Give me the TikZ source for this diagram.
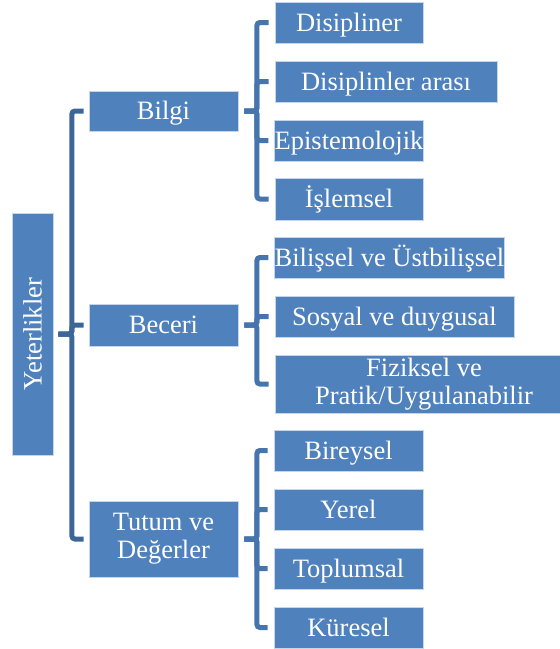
\documentclass[tikz,border=0pt]{standalone}
\usepackage{fontspec}
\setmainfont{Liberation Serif}
\usetikzlibrary{calc}
\definecolor{boxfill}{HTML}{4F81BD}
\definecolor{boxline}{HTML}{C5D6EC}
\definecolor{mainconn}{HTML}{3D6698}
\definecolor{subconn}{HTML}{4675AE}
\tikzset{
  bx/.style={rectangle, fill=boxfill, draw=boxline, line width=0.8pt, inner sep=0pt,
    text=white, font=\fontsize{26.5}{28}\selectfont, align=center},
  bxone/.style={bx, text height=17.5pt, text depth=0pt},
  mconn/.style={draw=mainconn, line width=5pt, rounded corners=3pt},
  sconn/.style={draw=subconn, line width=5pt, rounded corners=3pt}
}
\begin{document}
\begin{tikzpicture}[x=1pt,y=-1pt]
\useasboundingbox (0,0) rectangle (560,649);
\clip (0,0) rectangle (560,649);
% root
\node[bx, minimum width=41pt, minimum height=242pt] (yet) at (32.5,334) {};
\node[text=white, font=\fontsize{26.5}{28}\selectfont, rotate=90, inner sep=0pt] (yett) at (yet.center) {Yeterlikler};
% level 1
\node[bxone, minimum width=149pt, minimum height=40pt] (bilgi) at (163.5,111) {Bilgi};
\node[bxone, minimum width=149pt, minimum height=42pt] (beceri) at (163.5,325) {Beceri};
\node[bx, minimum width=149pt, minimum height=76pt] (tutum) at (163.5,539) {Tutum ve\\Değerler};
% Bilgi children
\node[bxone, minimum width=148pt, minimum height=41pt] (dis) at (349,22.5) {Disipliner};
\node[bxone, minimum width=222pt, minimum height=41pt] (disa) at (386,81.5) {Disiplinler arası};
\node[bxone, minimum width=148pt, minimum height=41pt] (epi) at (349,140.5) {Epistemolojik};
\node[bxone, minimum width=148pt, minimum height=42pt] (isl) at (349,199) {İşlemsel};
% Beceri children
\node[bxone, minimum width=229pt, minimum height=41pt] (bil) at (389.5,257.5) {Bilişsel ve Üstbilişsel};
\node[bxone, minimum width=239pt, minimum height=41pt] (sos) at (394.5,316.5) {Sosyal ve duygusal};
\node[bx, minimum width=298pt, minimum height=58pt] (fiz) at (424,384) {Fiziksel ve\\Pratik/Uygulanabilir};
% Tutum children
\node[bxone, minimum width=149pt, minimum height=41pt] (bir) at (348.5,450.5) {Bireysel};
\node[bxone, minimum width=149pt, minimum height=41pt] (yer) at (348.5,509.5) {Yerel};
\node[bxone, minimum width=149pt, minimum height=41pt] (top) at (348.5,568.5) {Toplumsal};
\node[bxone, minimum width=149pt, minimum height=41pt] (kur) at (348.5,627.5) {Küresel};
% main connectors
\foreach \c in {bilgi,beceri,tutum}
  \draw[mconn] ($(yet.east)+(5,0)$) -- ++(13.5,0) |- ($(\c.west)+(-5,0)$);
% level-2 connectors
\foreach \c in {dis,disa,epi,isl}
  \draw[sconn] ($(bilgi.east)+(6,0)$) -- ++(12.5,0) |- ($(\c.west)+(-6,0)$);
\foreach \c in {bil,sos,fiz}
  \draw[sconn] ($(beceri.east)+(6,0)$) -- ++(12.5,0) |- ($(\c.west)+(-6,0)$);
\foreach \c in {bir,yer,top,kur}
  \draw[sconn] ($(tutum.east)+(6,0)$) -- ++(12.5,0) |- ($(\c.west)+(-6,0)$);
\end{tikzpicture}
\end{document}
